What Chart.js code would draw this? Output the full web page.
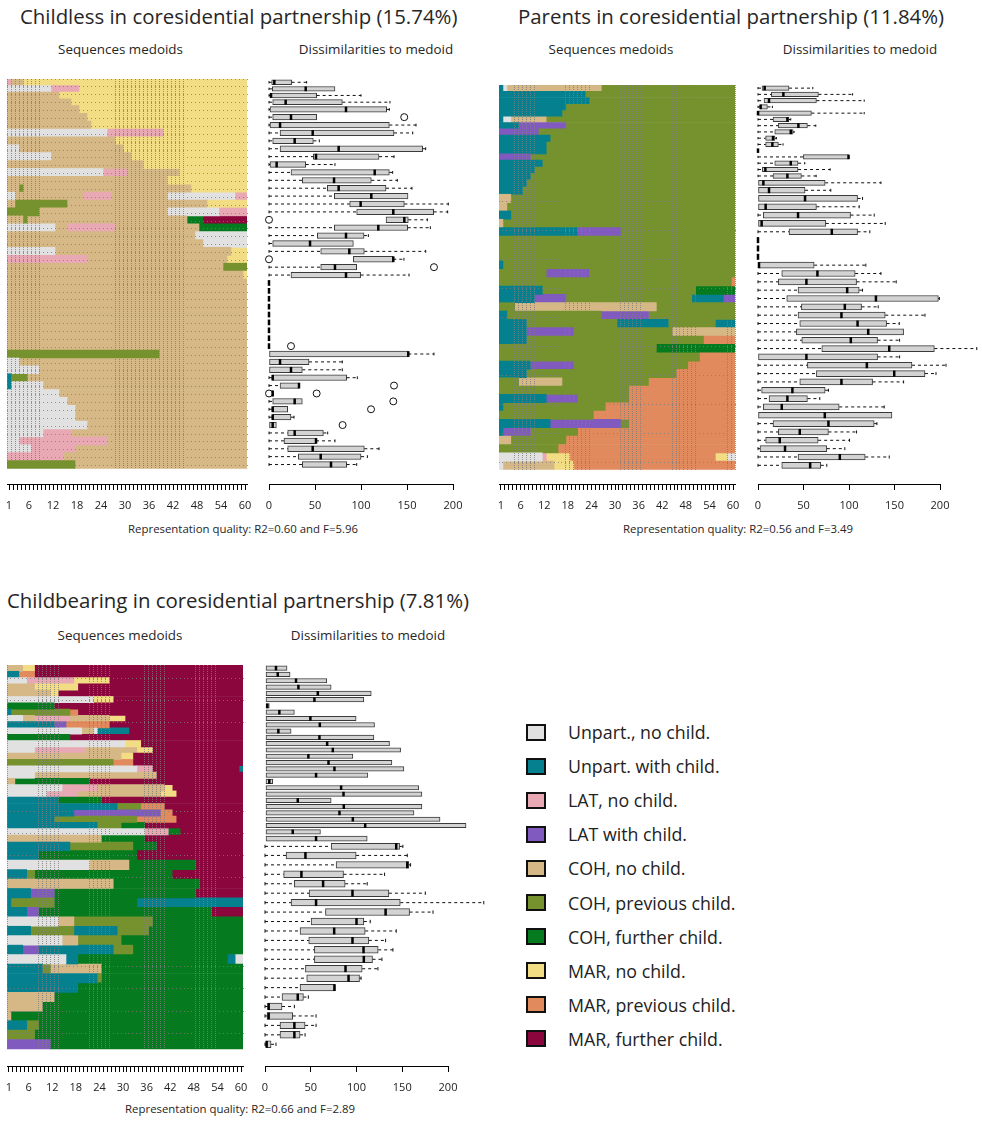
<!DOCTYPE html>
<html lang="en">
<head>
<meta charset="utf-8">
<title>Sequence medoids by cluster</title>
<script src="https://cdn.jsdelivr.net/npm/chart.js@4.4.1/dist/chart.umd.min.js"></script>
<style>
  html, body { margin: 0; padding: 0; background: #fff; }
  body { position: relative; width: 982px; height: 1121px; overflow: hidden;
         font-family: "Open Sans", "Noto Sans", sans-serif; color: #262626; }
  .txt { position: absolute; white-space: nowrap; line-height: 1; }
  .title { font-size: 20.4px; }
  .sub { font-size: 13.4px; transform: translateX(-50%); }
  .note { font-size: 11.4px; transform: translateX(-50%); }
  canvas.plot { position: absolute; }
  #legend { position: absolute; left: 526px; top: 715px; }
  .item { display: flex; align-items: center; height: 34.1px; }
  .sw { width: 16px; height: 13px; border: 2px solid #111; margin-right: 22px; }
  .lab { font-size: 17.8px; color: #222; }
</style>
</head>
<body>
<div id="texts"></div>
<div id="legend"></div>
<script>
// ---- state alphabet -------------------------------------------------------
const stateCodes  = ['A','B','C','D','E','F','G','H','I','J'];
const stateLabels = ['Unpart., no child.','Unpart. with child.','LAT, no child.','LAT with child.',
                     'COH, no child.','COH, previous child.','COH, further child.',
                     'MAR, no child.','MAR, previous child.','MAR, further child.'];
const stateColors = ['#e1e1e1','#05808f','#e8a9b5','#805abe','#d5b886','#75922f','#067a1e',
                     '#f2dd85','#e08a5d','#8b063d'];
const seqLength = 60;
const seqTickLabels = [1,6,12,18,24,30,36,42,48,54,60];
const boxTicks = [0,50,100,150,200];

// ---- cluster 1: childless in coresidential partnership --------------------
const childlessTitle   = 'Childless in coresidential partnership (15.74%)';
const childlessQuality = 'Representation quality: R2=0.60 and F=5.96';
const childlessWeights = [5,5,5,5,6,6,6,6,6,6, 6,6,6,6,6,6,6,6,6,6, 6,6,6,6,6,6,6,6,6,6,
                          6,6,6,6,6,6,6,6,6,6, 6,6,6,6,6,6,6,6,6,6];
// each medoid: state code + start month of each spell
const childlessSeqs = [
  'C0 E1 H4','A0 C11 H18','E0 H13','E0 H16','E0 H18','E0 H20','E0 H21','A0 C25 H39','E0 H27','A0 E3 H29',
  'A0 E11 H31','E0 H34','A0 C24 E30 H43','E0 H40','E0 F3 E4 H46','A0 E2 C19 E26 A40 C57','E0 F2 E15 H50','F0 E8 A40 C53','E0 F4 E5 G45 J49','A0 E12 C15 E27 G48',
  'E0 A47','E0 A49','A0 E12 H56','C0 E20 H55','E0 F54','E0 H59','E0','E0','E0','E0',
  'E0','E0','E0','E0','E0','F0 E38','A0 E3','A0 E8','B0 F1 E5','B0 A1 E9',
  'A0 E13','A0 E15','A0 E17','A0 E17','A0 E20','A0 C9 E16','A0 C3 E25','A0 C6 E17','C0 E14','F0 E17'
];
const childlessQ1  = [2.9,3.6,1.1,4,1.1,4,1.1,12,4,12, 48.2,1.1,23.9,36.2,63.4,71,87.7,95.3,127.2,71,
                      52.5,4,56.2,91.7,56.2,23.9,0,0,0,0, 0,0,0,0,0,0,0,0,4,12, 3.6,4,4,4,0,20.3,16.3,20.3,31.9,36.2];
const childlessMed = [5.8,39.9,2.2,18.1,83.7,23.9,12,47.5,27.9,75.7, 51.1,8.3,114.9,70.7,75.7,111.2,99.6,135.1,147.1,118.8,
                      83.7,44.6,87.3,135.1,71.7,83.7,0,0,0,0, 0,0,0,0,0,151.4,12,23.9,4,32.6, 4,27.9,4,4,4,27.9,51.1,47.5,56.2,67.4];
const childlessQ3  = [24.6,71.7,51.8,79.7,127.9,51.8,130.8,135.9,48.2,167, 119.6,39.9,130.8,111.2,127.2,151.1,147.1,179,151.4,150.7,
                      103.3,91.7,103.6,135.1,95.3,99.6,0,0,0,0, 0,0,0,0,0,151.4,43.5,36.2,84.4,32.6, 4.7,36.2,20.3,23.9,8,59.1,51.1,103.6,100,84.4];
const childlessLo  = [0,0,0,0,0,0,0,0,0,0, 0,0,0,0,0,0,0,0,127.2,0, 0,0,0,91.7,0,0,0,0,0,0,
                      0,0,0,0,0,0,0,0,0,0, 3.6,0,0,0,0,0,0,0,0,0];
const childlessHi  = [40.9,71.7,100,131.5,130.8,51.8,159.8,156.2,54.7,170.3, 135.9,71.7,134.4,139.5,155.4,151.1,194.9,194.2,172.1,175.4,
                      108,91.7,170.3,146.7,95.3,152.2,0,0,0,0, 0,0,0,0,0,179.3,79.7,79.7,96,32.6, 4.7,36.2,20.3,27.2,8,63.8,71.7,119.6,106.9,95.3];
const childlessOutRow = [6,19,24,25,35,40,41,41,42,43,45];
const childlessOutVal = [147,0,0,179.3,23.9,135.9,0,51.8,135.1,110.9,80];

// ---- cluster 2: parents in coresidential partnership ----------------------
const parentsTitle   = 'Parents in coresidential partnership (11.84%)';
const parentsQuality = 'Representation quality: R2=0.56 and F=3.49';
const parentsWeights = [15,15,15,15,15,15,15,15,15,15, 15,15,15,15,16,16,20,20,20,20,
                        20,20,20,20,20,20,20,20,20,20, 20,20,20,20,20,20,20,20,20,20,
                        20,20,20,20,20,20,20,20,20,20];
const parentsSeqs = [
  'B0 A1 E2 F26','B0 F22','B0 F23','B0 F17','B0 F16','B0 A1 E3 F12','B0 D5 F17','D0 F10','B0 F13','B0 F12',
  'B0 F12','D0 F8','B0 F11','B0 F9','B0 F8','B0 F7','B0 F6','E0 F3','E0 F2','B0 F3',
  'E0 F1','B0 D20 F31','F0','F0','F0','B0 F1','F0 D12 F23','F0 I59','B0 F11 G50','B0 D9 F17 B49 D57',
  'F0 E4 F40','B0 F2 D26 F38','B0 F7 B30 F43 B55','B0 D7 F19 E44','B0 F7 I52','F0 G40','F0 I51','B0 D8 F19 I48','B0 F7 I45','F0 E5 F16 I38',
  'F0 I33','B0 D12 F20 I33','B0 F1 I27','F0 I24','B0 D13 F31 I33','B0 D1 F8 I20','E0 F3 I17','F0 I15','A0 C11 H12 I18 H55 A58','A0 E1 H14 I19'
];
const parentsQ1  = [4.4,14.7,6.6,2.2,0,16.5,22.4,18.4,8.4,8.4, 0,49.9,18.4,4.8,16.5,0,0,0,0,5.9,
                    0,34.1,0,0,0,0,26.1,22.4,44,31.6, 47.7,44,45.9,42.2,48.1,70.1,0,54.3,64.2,45.9,
                    4,12.1,5.9,0,16.5,22.4,8.4,2.2,44,26.1];
const parentsMed = [7.3,27.9,12.1,2.9,0,32.3,44.4,36,16.5,15.8, 0,99.5,36,8.1,32.3,5.9,12.1,51.7,8.4,44,
                    4,81.1,0,0,0,1.1,65.3,53.2,98,129.6, 95.4,91.7,109.4,121.1,102,144.2,53.2,119.6,149.7,91.7,
                    37.8,32.3,26.1,73.4,77.4,45.9,23.9,29.7,89.9,57.3];
const parentsQ3  = [34.1,66.4,64.2,10.3,58.7,34.1,54.3,38.5,18.7,22.4, 0,99.5,44,44,47.7,73.8,51.7,109.4,64.2,101.7,
                    74.5,109.4,0,0,0,61.7,106.8,108.3,111.2,198.2, 113.8,139.8,141.3,160,131.4,193.8,131.4,169.2,183.5,125.9,
                    73.8,54.3,89.2,147.2,127.7,77.4,66.1,75.6,117.8,69];
const parentsLo  = [0,0,0,0,0,0,0,0,0,0, 0,0,0,0,0,0,0,0,0,0, 0,0,0,0,0,0,0,0,0,0,
                    0,0,0,0,0,0,0,0,0,0, 0,0,0,0,0,0,0,0,0,0];
const parentsHi  = [60.2,103.9,116.7,15.8,116.7,36,63.5,39.6,20.2,27.5, 0,99.5,51.4,79.3,63.9,135.1,80,114.9,111.2,127.7,
                    139.8,122.9,0,0,0,118.5,135.1,151.9,114.9,199.3, 132.1,183.5,155.2,160,155.6,240.4,155.6,206.6,195.6,160,
                    77.4,67.9,138.7,147.2,130.7,108.3,100.6,95.4,144.2,75.6];
const parentsOutRow = [];
const parentsOutVal = [];

// ---- cluster 3: childbearing in coresidential partnership -----------------
const bearingTitle   = 'Childbearing in coresidential partnership (7.81%)';
const bearingQuality = 'Representation quality: R2=0.66 and F=2.89';
const bearingWeights = [2,2,2,2,2,2,2,2,2,2, 2,2,2,2,2,2,2,2,2,2, 2,2,2,2,2,2,2,2,3,3,
                        3,3,3,3,3,3,3,3,3,3, 3,3,3,3,3,3,3,3,3,3];
const bearingSeqs = [
  'E0 H4 J7','B0 I3 J7','A0 C5 H17 J26','E0 H7 J18','E0 H11 J13','A0 H22 J27','G0 J12','B0 F1 I16 J18','A0 E4 C7 E16 H26 J30','B0 D12 I15 J26',
  'A0 E19 A22 B23 J31','G0 J16','A0 H30 J34','A0 C7 E20 H33 J37','E0 H29 J32','F0 I27 J32','A0 C33 J37 B59','A0 E7 J38','E0 G2 J21','A0 C14 E23 H40 J42',
  'A0 C10 E18 H39 J43','B0 G13 J24','B0 F28 I34 J40','B0 D17 I39 J42','B0 F12 I33 J43','B0 F23 G29 J35','A0 C35 G41 J44','E0 G24 J35','B0 F16 G32 J38','B0 G8 J33',
  'A0 E21 G31 J48','B0 F5 G7 J42','E0 G27 J49','B0 D6 G12 J48','B0 F1 G12 B33','B0 D5 G8 J52','A0 E13 F17 G37','B0 F6 B17 F28 G36','A0 E14 F18 G29','B0 D4 B8 F27 G32',
  'A0 B15 G18 B56 A58','B0 F9 E11 G24','B0 F23 G24','B0 G18','E0 G12','E0 G9','E0 G1','B0 F5 G8','F0 G7','D0 G11'
];
const bearingQ1  = [1.1,1.1,1.1,1.1,1.1,1.1,1.1,1.1,1.1,1.1, 1.1,1.1,1.1,1.1,1.1,1.1,1.1,1.1,1.1,1.1,
                    1.1,1.1,1.1,1.1,1.1,1.1,1.1,1.1,72.3,23, 77.7,20.4,32.1,48.2,28.5,66.1,50.4,38.3,47.8,54,
                    54,44.2,45.6,38.3,18.6,2.9,2.2,16.4,16.4,1.1];
const bearingMed = [12,13.9,33.9,36.5,57.7,54,2.5,15.7,49.6,59.9, 14.6,59.5,67.9,74.1,47.4,69.4,75.9,55.8,4.7,83.2,
                    85.8,35.8,86.1,81.4,96,109.5,30.3,55.8,143.4,44.2, 155.5,39.8,63.5,95.6,55.8,131.8,100,75.6,95.6,107.7,
                    108,88,91.3,75.9,35.8,4,4,32.1,32.1,1.8];
const bearingQ3  = [24.1,27.4,67.5,72.3,116.1,108,4.7,32.1,99.6,119.7, 28.5,119,136.1,148.2,96,138.7,151.8,112.4,8.4,167.9,
                    171.5,72.3,171.5,162.8,191.3,219.7,60.6,111.7,147.1,99.6, 157.3,85.8,87.6,135.4,147.8,158,108,109.5,113.5,123.7,
                    117.5,106.2,103.3,76.7,42,18.6,30.3,43.8,38.3,6.6];
const bearingLo  = [1.1,1.1,1.1,1.1,1.1,1.1,1.1,1.1,1.1,1.1, 1.1,1.1,1.1,1.1,1.1,1.1,1.1,1.1,1.1,1.1,
                    1.1,1.1,1.1,1.1,1.1,1.1,1.1,1.1,0,0, 0,0,0,0,0,0,0,0,0,0, 0,0,0,0,0,0,0,0,0,0];
const bearingHi  = [24.1,27.4,67.5,72.3,116.1,108,4.7,32.1,99.6,119.7, 28.5,119,136.1,148.2,96,138.7,151.8,112.4,8.4,167.9,
                    171.5,72.3,171.5,162.8,191.3,219.7,60.6,111.7,150.7,155.5, 159.1,130.7,111.7,175.2,239.1,183.6,115,143.4,131.8,139.8,
                    127.8,123.4,105,76.7,47.4,32.1,55.8,55.8,43.8,12];
const bearingOutRow = [];
const bearingOutVal = [];

// ---- page geometry ----------------------------------------------------------
const AXIS_H = 40;
const panels = [
  { title: childlessTitle, quality: childlessQuality, weights: childlessWeights, seqs: childlessSeqs,
    q1: childlessQ1, med: childlessMed, q3: childlessQ3, lo: childlessLo, hi: childlessHi,
    outRow: childlessOutRow, outVal: childlessOutVal,
    titleX: 20, titleY: 6, subY: 43, subSeqX: 120.5, subBoxX: 376, noteX: 243, noteY: 523,
    seqLeft: 7, seqWidth: 240, top: 79, rowsBottom: 468, axisY: 483.5,
    box0: 269, box200: 453,
    vTex: { drift: 0.0278, phase: 0.26, duty: 0.5 },
    hTex: { y0: 79, step: 7.89, from: 79, drift: 0, phase: 0, duty: 1 } },
  { title: parentsTitle, quality: parentsQuality, weights: parentsWeights, seqs: parentsSeqs,
    q1: parentsQ1, med: parentsMed, q3: parentsQ3, lo: parentsLo, hi: parentsHi,
    outRow: parentsOutRow, outVal: parentsOutVal,
    titleX: 518, titleY: 6, subY: 43, subSeqX: 611, subBoxX: 860, noteX: 738, noteY: 523,
    seqLeft: 499, seqWidth: 236, top: 85, rowsBottom: 469, axisY: 483.5,
    box0: 758, box200: 940,
    vTex: { drift: 0.0741, phase: 0.7437, duty: 0.45 },
    hTex: { y0: 201, step: 29, from: 195, drift: 0, phase: 0, duty: 1 } },
  { title: bearingTitle, quality: bearingQuality, weights: bearingWeights, seqs: bearingSeqs,
    q1: bearingQ1, med: bearingMed, q3: bearingQ3, lo: bearingLo, hi: bearingHi,
    outRow: bearingOutRow, outVal: bearingOutVal,
    titleX: 7, titleY: 590, subY: 629, subSeqX: 120, subBoxX: 368, noteX: 240, noteY: 1103,
    seqLeft: 7, seqWidth: 236, top: 665, rowsBottom: 1049, axisY: 1066,
    box0: 265, box200: 448,
    vTex: { drift: 0.075, phase: 0.43, duty: 0.45 },
    hTex: { y0: 678, step: 22.2, from: 665, drift: 0.143, phase: 0.153, duty: 0.57 } }
];

Chart.defaults.font.family = '"Open Sans", "Noto Sans", sans-serif';
Chart.defaults.color = '#222';

function parseSeq(str) {
  const parts = str.split(' ').map(p => ({ code: p[0], from: +p.slice(1) }));
  return parts.map((p, i) => ({ state: stateCodes.indexOf(p.code), from: p.from,
                                to: i + 1 < parts.length ? parts[i + 1].from : seqLength }));
}

function rowCentres(weights) {
  let acc = 0;
  return weights.map(w => { const c = acc + w / 2; acc += w; return c; });
}

function makeCanvas(left, top, width, height) {
  const c = document.createElement('canvas');
  c.className = 'plot';
  c.width = Math.round(width); c.height = Math.round(height);
  c.style.left = left + 'px'; c.style.top = top + 'px';
  document.body.appendChild(c);
  return c;
}

function addText(cls, text, x, y) {
  const d = document.createElement('div');
  d.className = 'txt ' + cls; d.textContent = text;
  d.style.left = x + 'px'; d.style.top = y + 'px';
  document.getElementById('texts').appendChild(d);
}

// faint raster of the cell borders in the state-sequence plot
const cellBorders = {
  id: 'cellBorders',
  afterDatasetsDraw(chart, args, opts) {
    const { ctx, scales: { x, y } } = chart;
    const top = y.getPixelForValue(0), bottom = y.getPixelForValue(opts.total);
    const colPx = [];
    for (let k = 0; k <= seqLength; k++) colPx.push(Math.floor(x.getPixelForValue(k + 0.5)));
    ctx.save();
    ctx.fillStyle = 'rgba(125,125,125,0.8)';
    // horizontal dotted borders
    const h = opts.h;
    for (let n = 0; ; n++) {
      const yy = h.y0 - opts.canvasTop + n * h.step;
      if (yy >= bottom - 1) break;
      if (yy < h.from - opts.canvasTop) continue;
      if (((n * h.drift + h.phase) % 1) >= h.duty) continue;
      colPx.forEach(px => ctx.fillRect(px, Math.floor(yy), 1, 1));
    }
    // vertical dotted borders
    const v = opts.v;
    for (let k = 0; k <= seqLength; k++) {
      if (((k * v.drift + v.phase) % 1) >= v.duty) continue;
      for (let yy = Math.floor(top); yy < bottom; yy += 2) ctx.fillRect(colPx[k], yy, 1, 1);
    }
    ctx.restore();
  }
};

// whiskers and medians drawn over the floating-bar boxes
const boxDecor = {
  id: 'boxDecor',
  afterDatasetsDraw(chart, args, opts) {
    const { ctx, scales: { x } } = chart;
    const boxes = chart.getDatasetMeta(0).data;
    ctx.save();
    boxes.forEach((el, i) => {
      const yc = el.y, h = el.height;
      const pLo = x.getPixelForValue(opts.lo[i]), pQ1 = x.getPixelForValue(opts.q1[i]);
      const pQ3 = x.getPixelForValue(opts.q3[i]), pHi = x.getPixelForValue(opts.hi[i]);
      const pMed = x.getPixelForValue(opts.med[i]);
      ctx.strokeStyle = '#111'; ctx.lineWidth = 1;
      const seg = (a, b) => {
        if (b - a < 0.5) return;
        ctx.setLineDash([3, 3]);
        ctx.beginPath(); ctx.moveTo(a, yc); ctx.lineTo(b, yc); ctx.stroke();
      };
      seg(pLo, pQ1); seg(pQ3, pHi);
      ctx.setLineDash([]);
      const st = h * 0.25;
      if (pQ1 - pLo >= 0.5) { ctx.beginPath(); ctx.moveTo(pLo, yc - st); ctx.lineTo(pLo, yc + st); ctx.stroke(); }
      if (pHi - pQ3 >= 0.5) { ctx.beginPath(); ctx.moveTo(pHi, yc - st); ctx.lineTo(pHi, yc + st); ctx.stroke(); }
      ctx.strokeStyle = '#000'; ctx.lineWidth = 2.5;
      ctx.beginPath(); ctx.moveTo(pMed, yc - h / 2); ctx.lineTo(pMed, yc + h / 2); ctx.stroke();
    });
    ctx.restore();
  }
};

function axisFont() { return { size: 11, family: '"Open Sans", "Noto Sans", sans-serif' }; }
function fixAxis(s) { s.height = AXIS_H; s.paddingLeft = 0; s.paddingRight = 0; }

panels.forEach(p => {
  addText('title', p.title, p.titleX, p.titleY);
  addText('sub', 'Sequences medoids', p.subSeqX, p.subY);
  addText('sub', 'Dissimilarities to medoid', p.subBoxX, p.subY);
  addText('note', p.quality, p.noteX, p.noteY);

  const pos = rowCentres(p.weights);
  const total = p.weights.reduce((a, b) => a + b, 0);
  const yMax = total * (p.axisY - p.top) / (p.rowsBottom - p.top);
  const canvasH = (p.axisY - p.top) + AXIS_H;
  const yScale = (stacked) => ({ type: 'linear', display: false, reverse: true, offset: false,
                                 min: 0, max: yMax, stacked });

  // ---- state sequences (one floating-bar dataset per spell order) ----
  const spells = p.seqs.map(parseSeq);
  const maxSpells = Math.max(...spells.map(s => s.length));
  const seqDatasets = [];
  for (let j = 0; j < maxSpells; j++) {
    seqDatasets.push({
      data: spells.map((s, i) => s[j] ? { x: [s[j].from + 0.5, s[j].to + 0.5], y: pos[i] }
                                       : { x: [seqLength + 0.5, seqLength + 0.5], y: pos[i] }),
      backgroundColor: spells.map(s => s[j] ? stateColors[s[j].state] : 'rgba(0,0,0,0)'),
      borderWidth: 0, barThickness: 'flex', barPercentage: 1, categoryPercentage: 1
    });
  }
  const sPad = 8;
  const seqCanvas = makeCanvas(p.seqLeft - sPad, p.top, p.seqWidth + 2 * sPad, canvasH);
  new Chart(seqCanvas, {
    type: 'bar',
    data: { datasets: seqDatasets },
    options: {
      indexAxis: 'y', responsive: false, animation: false, events: [],
      layout: { padding: { left: sPad, right: sPad, top: 0, bottom: 0 }, autoPadding: false },
      plugins: { legend: { display: false }, tooltip: { enabled: false },
                 cellBorders: { total, canvasTop: p.top, v: p.vTex, h: p.hTex } },
      scales: {
        y: yScale(true),
        x: {
          type: 'linear', min: 0.5, max: seqLength + 0.5, stacked: false,
          afterBuildTicks: s => { s.ticks = Array.from({ length: seqLength }, (_, i) => ({ value: i + 1 })); },
          afterFit: fixAxis,
          ticks: { autoSkip: false, maxRotation: 0, padding: 9, font: axisFont(), color: '#222',
                   callback: v => seqTickLabels.includes(v) ? String(v) : '' },
          grid: { drawOnChartArea: false, drawTicks: true, tickLength: 6, color: '#000', lineWidth: 1 },
          border: { display: true, color: '#000', width: 1 }
        }
      }
    },
    plugins: [cellBorders]
  });

  // ---- dissimilarity boxplots ----
  const padL = 8, padR = 42;
  const boxCanvas = makeCanvas(p.box0 - padL, p.top, padL + (p.box200 - p.box0) + padR, canvasH);
  new Chart(boxCanvas, {
    type: 'bar',
    data: { datasets: [
      { data: p.q1.map((v, i) => ({ x: [v, p.q3[i]], y: pos[i] })),
        backgroundColor: '#d3d3d3', borderColor: '#3a3a3a', borderWidth: 1, borderSkipped: false,
        barThickness: 'flex', barPercentage: 0.72, categoryPercentage: 1, clip: false },
      { type: 'scatter', data: p.outRow.map((r, k) => ({ x: p.outVal[k], y: pos[r - 1] })),
        pointStyle: 'circle', pointRadius: 3.5, borderColor: '#111', borderWidth: 1,
        backgroundColor: 'rgba(0,0,0,0)', clip: false }
    ] },
    options: {
      indexAxis: 'y', responsive: false, animation: false, events: [],
      layout: { padding: { left: padL, right: padR, top: 0, bottom: 0 }, autoPadding: false },
      plugins: { legend: { display: false }, tooltip: { enabled: false },
                 boxDecor: { q1: p.q1, med: p.med, q3: p.q3, lo: p.lo, hi: p.hi } },
      scales: {
        y: yScale(false),
        x: {
          type: 'linear', min: 0, max: 200,
          afterBuildTicks: s => { s.ticks = boxTicks.map(v => ({ value: v })); },
          afterFit: fixAxis,
          ticks: { autoSkip: false, maxRotation: 0, padding: 9, font: axisFont(), color: '#222' },
          grid: { drawOnChartArea: false, drawTicks: true, tickLength: 6, color: '#000', lineWidth: 1 },
          border: { display: true, color: '#000', width: 1 }
        }
      }
    },
    plugins: [boxDecor]
  });
});

// ---- legend ----
const legend = document.getElementById('legend');
stateLabels.forEach((lab, i) => {
  const row = document.createElement('div'); row.className = 'item';
  const sw = document.createElement('div'); sw.className = 'sw'; sw.style.background = stateColors[i];
  const tx = document.createElement('span'); tx.className = 'lab'; tx.textContent = lab;
  row.appendChild(sw); row.appendChild(tx); legend.appendChild(row);
});
</script>
</body>
</html>
